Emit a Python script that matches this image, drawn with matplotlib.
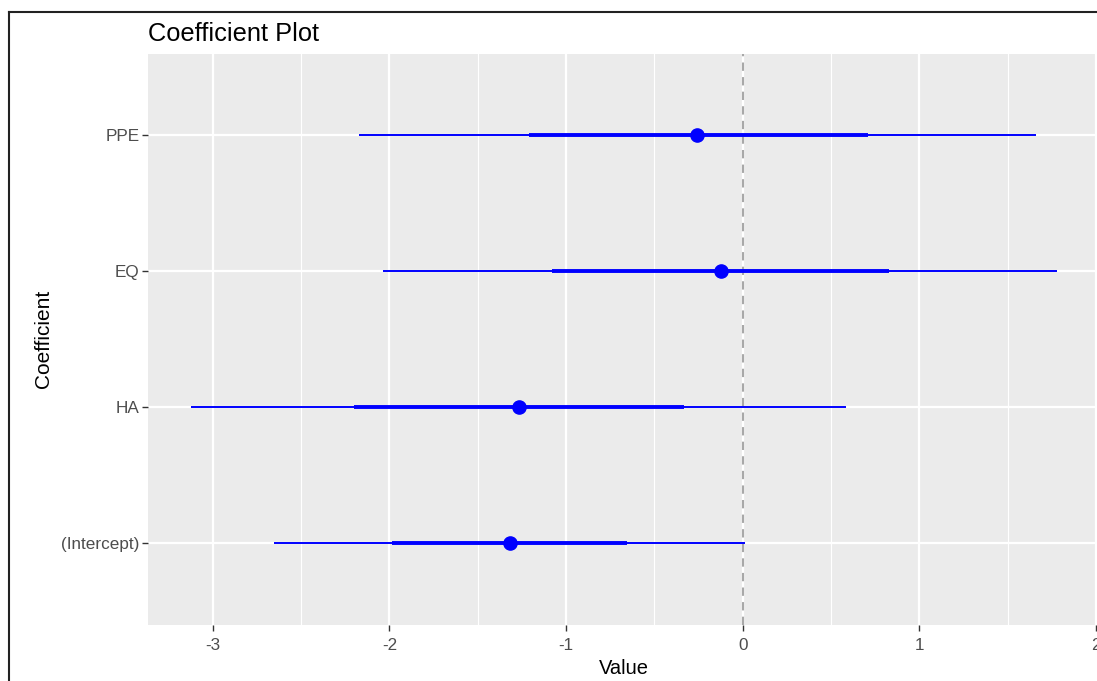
import matplotlib
matplotlib.use("Agg")
import matplotlib.pyplot as plt
from matplotlib.lines import Line2D
import numpy as np

plt.rcParams['font.family'] = ['Liberation Sans', 'DejaVu Sans']

coefs = ["(Intercept)", "HA", "EQ", "PPE"]
values = [-1.316, -1.267, -0.125, -0.257]
inner_low = [-1.985, -2.198, -1.080, -1.212]
inner_high = [-0.653, -0.332, 0.827, 0.707]
outer_low = [-2.652, -3.122, -2.038, -2.174]
outer_high = [0.011, 0.587, 1.781, 1.660]
x_ticks = [-3, -2, -1, 0, 1, 2]
x_minor = [-2.5, -1.5, -0.5, 0.5, 1.5]

W, H = 1097, 681
fig = plt.figure(figsize=(W / 100, H / 100), dpi=100)
left_px, right_px, top_px, bot_px = 148, 1100.6, 53.5, 625
ax = fig.add_axes([left_px / W, 1 - bot_px / H, (right_px - left_px) / W, (bot_px - top_px) / H])
ax.set_facecolor('#EBEBEB')
for s in ax.spines.values():
    s.set_visible(False)

ypos = np.arange(1, len(coefs) + 1)
blue = '#0000FF'
ax.axvline(0, color='#A8A8A8', lw=1.5, ls=(0, (4, 3)), zorder=2)
ax.hlines(ypos, outer_low, outer_high, color=blue, lw=1.4, zorder=3)
ax.hlines(ypos, inner_low, inner_high, color=blue, lw=2.8, zorder=4)
ax.plot(values, ypos, 'o', color=blue, ms=9.5, zorder=5)

ax.set_xticks(x_ticks)
ax.set_xticklabels([str(t) for t in x_ticks])
ax.set_xticks(x_minor, minor=True)
ax.set_yticks(ypos)
ax.set_yticklabels(coefs)
ax.set_xlim(-3.367, 2.026)
ax.set_ylim(0.4, 4.6)
ax.grid(True, which='major', color='white', lw=1.6, zorder=1)
ax.grid(True, which='minor', axis='x', color='white', lw=0.8, zorder=1)
ax.set_axisbelow(True)
ax.tick_params(axis='x', which='major', length=4, width=1.0, color='#333333',
               labelcolor='#4D4D4D', labelsize=12.3, pad=5)
ax.tick_params(axis='y', which='major', length=4, width=1.0, color='#333333',
               labelcolor='#4D4D4D', labelsize=12.3, pad=2)
ax.tick_params(axis='both', which='minor', length=0)

ax.set_xlabel('Value', fontsize=14.5, color='black', labelpad=5)
ax.set_ylabel('Coefficient', fontsize=15, color='black', labelpad=6)
fig.text(left_px / W, 1 - 34 / H, 'Coefficient Plot', fontsize=18.3, color='black',
         ha='left', va='center')

# image border
fig.add_artist(Line2D([8.5 / W, 8.5 / W], [0, 1 - 11.5 / H], color='#222222', lw=1.5, transform=fig.transFigure))
fig.add_artist(Line2D([8.5 / W, 1], [1 - 11.5 / H, 1 - 11.5 / H], color='#222222', lw=1.5, transform=fig.transFigure))

fig.savefig('out.png', dpi=100)
